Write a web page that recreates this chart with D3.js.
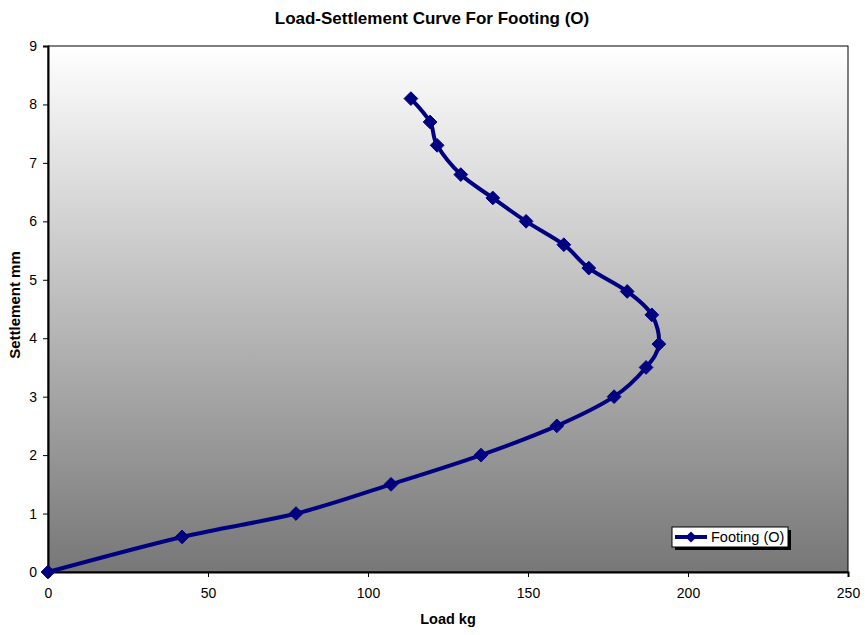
<!DOCTYPE html>
<html lang="en">
<head>
   <meta charset="utf-8">
   <script src="https://d3js.org/d3.v7.min.js"></script>
   <title>Load-Settlement Curve</title>
   <style>
      body { margin: 0; background: #fff; }
      text { font-family: "Liberation Sans", Arial, sans-serif; }
   </style>
</head>
<body>
   <div id="chart"></div>
   <script>
      // Data
      var loadKg = [0, 41.9, 77.5, 107.2, 135.3, 159, 176.9, 186.9, 190.9, 188.7, 181, 169, 161.2, 149.4, 139, 129, 121.6, 119.4, 113.4];
      var settlementMm = [0, 0.6, 1.0, 1.5, 2.0, 2.5, 3.0, 3.5, 3.9, 4.4, 4.8, 5.2, 5.6, 6.0, 6.4, 6.8, 7.3, 7.7, 8.1];
      var xTicks = [0, 50, 100, 150, 200, 250];
      var yTicks = [0, 1, 2, 3, 4, 5, 6, 7, 8, 9];
      var seriesName = "Footing (O)";

      var W = 865, H = 635;
      var plot = { left: 48, top: 46, right: 848, bottom: 572 };
      var navy = "#000080";

      var svg = d3.select("#chart").append("svg")
         .attr("width", W)
         .attr("height", H);

      var x = d3.scaleLinear().domain([0, 250]).range([plot.left, plot.right]);
      var y = d3.scaleLinear().domain([0, 9]).range([plot.bottom, plot.top]);

      // Background gradient
      var grad = svg.append("defs").append("linearGradient")
         .attr("id", "bg")
         .attr("x1", 0).attr("y1", 0).attr("x2", 0).attr("y2", 1);
      grad.append("stop").attr("offset", "0%").attr("stop-color", "#ffffff");
      grad.append("stop").attr("offset", "100%").attr("stop-color", "#777777");

      svg.append("rect")
         .attr("x", plot.left)
         .attr("y", plot.top)
         .attr("width", plot.right - plot.left)
         .attr("height", plot.bottom - plot.top)
         .attr("fill", "url(#bg)")
         .attr("stroke", "#000")
         .attr("stroke-width", 1);

      // Axes
      var xAxis = svg.append("g")
         .attr("transform", "translate(0," + plot.bottom + ")")
         .call(d3.axisBottom(x).tickValues(xTicks).tickSize(5).tickPadding(11));
      var yAxis = svg.append("g")
         .attr("transform", "translate(" + plot.left + ",0)")
         .call(d3.axisLeft(y).tickValues(yTicks).tickSize(5).tickPadding(6));

      [xAxis, yAxis].forEach(function (g) {
         g.select(".domain").attr("stroke", "#000").attr("stroke-width", 2);
         g.selectAll(".tick line").attr("stroke", "#000");
         g.selectAll(".tick text")
            .attr("fill", "#000")
            .style("font-family", "'Liberation Sans', Arial, sans-serif")
            .style("font-size", "14px");
      });

      // Titles
      svg.append("text")
         .attr("x", 432).attr("y", 24)
         .attr("text-anchor", "middle")
         .style("font-size", "17px").style("font-weight", "bold")
         .text("Load-Settlement Curve For Footing (O)");

      svg.append("text")
         .attr("x", 448).attr("y", 624)
         .attr("text-anchor", "middle")
         .style("font-size", "14.5px").style("font-weight", "bold")
         .text("Load kg");

      svg.append("text")
         .attr("transform", "translate(20,305) rotate(-90)")
         .attr("text-anchor", "middle")
         .style("font-size", "15px").style("font-weight", "bold")
         .text("Settlement mm");

      // Series
      var points = loadKg.map(function (d, i) { return { x: d, y: settlementMm[i] }; });

      var line = d3.line()
         .x(d => x(d.x))
         .y(d => y(d.y))
         .curve(d3.curveCardinal.tension(0));

      svg.append("path")
         .attr("d", line(points))
         .attr("fill", "none")
         .attr("stroke", navy)
         .attr("stroke-width", 4)
         .attr("stroke-linejoin", "round");

      var diamond = d3.symbol().type(d3.symbolDiamond2).size(120);

      svg.selectAll(".marker")
         .data(points)
         .enter()
         .append("path")
         .attr("class", "marker")
         .attr("d", diamond)
         .attr("transform", d => "translate(" + x(d.x) + "," + y(d.y) + ")")
         .attr("fill", navy)
         .attr("stroke", navy)
         .attr("stroke-width", 1)
         .attr("stroke-linejoin", "round");

      // Legend
      var lg = svg.append("g").attr("transform", "translate(672,527)");
      lg.append("rect").attr("x", 3).attr("y", 3).attr("width", 116).attr("height", 20).attr("fill", "#000");
      lg.append("rect").attr("width", 116).attr("height", 20).attr("fill", "#fff").attr("stroke", "#000");
      lg.append("line")
         .attr("x1", 3).attr("x2", 35).attr("y1", 10).attr("y2", 10)
         .attr("stroke", navy).attr("stroke-width", 4);
      lg.append("path")
         .attr("d", d3.symbol().type(d3.symbolDiamond2).size(80))
         .attr("transform", "translate(19,10)")
         .attr("fill", navy);
      lg.append("text")
         .attr("x", 39).attr("y", 15)
         .style("font-size", "14.5px")
         .text(seriesName);
   </script>
</body>
</html>
